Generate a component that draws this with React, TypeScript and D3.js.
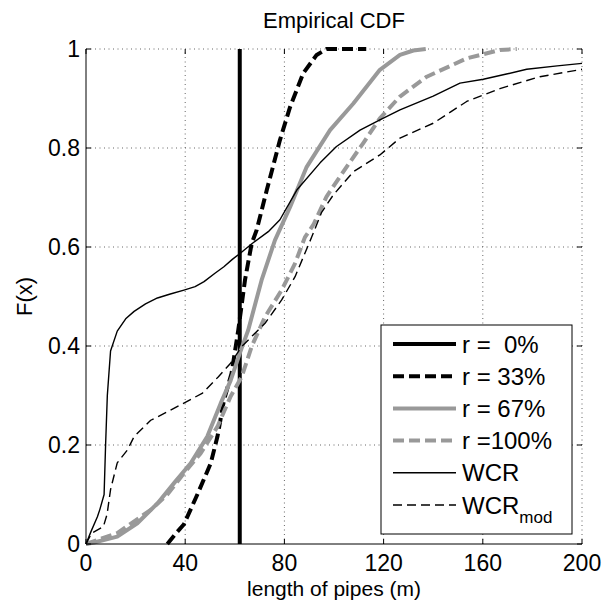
import React from "react";
import * as d3 from "d3";

// ---- data ----
const xTicks = [0, 40, 80, 120, 160, 200];
const yTicks = [0, 0.2, 0.4, 0.6, 0.8, 1];
const yTickLabels = ["0", "0.2", "0.4", "0.6", "0.8", "1"];

const r0X = [62, 62];
const r0Y = [0, 1];

const r33X = [32.8, 36, 39.5, 44.9, 50.3, 53, 55.6, 58.7, 61.4, 64.1, 66.8, 68.8, 72.9, 78.2, 82.3, 87.6, 93, 97, 113];
const r33Y = [0, 0.02, 0.04, 0.1, 0.163, 0.217, 0.29, 0.345, 0.432, 0.533, 0.607, 0.634, 0.715, 0.816, 0.883, 0.951, 0.988, 1.0, 1.0];

const r67X = [0, 3.2, 12.6, 20.7, 28.8, 35.5, 42.2, 48.9, 54.3, 58.3, 62, 65.4, 70.8, 76.2, 82.3, 89, 98.4, 107.8, 118.5, 126.6, 132, 137];
const r67Y = [0, 0.003, 0.015, 0.042, 0.082, 0.123, 0.163, 0.217, 0.284, 0.33, 0.385, 0.432, 0.533, 0.614, 0.681, 0.762, 0.836, 0.89, 0.958, 0.988, 0.997, 1];

const r100X = [0, 12.6, 26.1, 32.8, 39.5, 46.2, 53, 58.3, 62.8, 66.8, 72.2, 78.9, 84.3, 88.3, 91.7, 97, 105.1, 111.8, 118.5, 126.6, 137.4, 153.5, 166.9, 173.7];
const r100Y = [0, 0.022, 0.069, 0.1, 0.143, 0.183, 0.237, 0.298, 0.338, 0.399, 0.459, 0.513, 0.567, 0.62, 0.645, 0.702, 0.762, 0.81, 0.86, 0.904, 0.944, 0.981, 0.998, 1.0];

const wcrX = [0, 2, 4.6, 5.6, 7.3, 7.9, 8.6, 9.9, 12.6, 16, 19.4, 24, 28.8, 34, 39.5, 44, 47.6, 52, 55.6, 59, 62.1, 67, 73.5, 78.2, 85, 94.4, 101, 110.5, 118.5, 126.6, 140, 150.8, 160.2, 170, 177.7, 190, 200];
const wcrY = [0, 0.025, 0.055, 0.07, 0.1, 0.2, 0.3, 0.39, 0.43, 0.455, 0.47, 0.485, 0.497, 0.505, 0.513, 0.52, 0.53, 0.547, 0.56, 0.575, 0.587, 0.607, 0.631, 0.655, 0.715, 0.77, 0.803, 0.836, 0.857, 0.877, 0.905, 0.931, 0.939, 0.95, 0.959, 0.966, 0.971];

const wcrModX = [0, 2.3, 7, 8.5, 9.9, 12.6, 16.7, 19.4, 26.1, 32.8, 40.8, 47, 53.4, 58.3, 62.8, 67, 72.2, 78.9, 84.3, 91, 95, 99.7, 107.8, 118.5, 126.6, 140, 153.5, 166.9, 183, 200];
const wcrModY = [0, 0.022, 0.035, 0.06, 0.11, 0.164, 0.19, 0.217, 0.25, 0.267, 0.288, 0.305, 0.338, 0.365, 0.399, 0.42, 0.446, 0.493, 0.54, 0.62, 0.67, 0.705, 0.752, 0.786, 0.82, 0.85, 0.894, 0.92, 0.944, 0.959];

const legendLabels = ["r =  0%", "r = 33%", "r = 67%", "r =100%", "WCR", "WCR"];

const GRAY = "#999999";
const series = [
  { xs: r0X, ys: r0Y, color: "#000", width: 4, dash: "none" },
  { xs: r33X, ys: r33Y, color: "#000", width: 4, dash: "11,5" },
  { xs: r67X, ys: r67Y, color: GRAY, width: 4, dash: "none" },
  { xs: r100X, ys: r100Y, color: GRAY, width: 4, dash: "11,5" },
  { xs: wcrX, ys: wcrY, color: "#000", width: 1.4, dash: "none" },
  { xs: wcrModX, ys: wcrModY, color: "#000", width: 1.4, dash: "9,5" },
];

const FONT = "'Liberation Sans', Arial, Helvetica, sans-serif";

export default function App() {
  const W = 603, H = 604;
  const L = 86, R = 582, T = 49, B = 544;
  const x = d3.scaleLinear().domain([0, 200]).range([L, R]);
  const y = d3.scaleLinear().domain([0, 1]).range([B, T]);
  const line = d3.line<[number, number]>().x((d) => x(d[0])).y((d) => y(d[1]));

  const legX0 = 381, legY0 = 325, legW = 191, legH = 209;
  const rowY = (i: number) => 344 + i * 32.2;

  return (
    <svg width={W} height={H} style={{ position: "absolute", left: 0, top: 0, background: "#fff" }} fontFamily={FONT}>
      <rect x={0} y={0} width={W} height={H} fill="#fff" />
      {/* grid */}
      {xTicks.filter((t) => t !== 0).map((t) => (
        <line key={"gx" + t} x1={x(t)} x2={x(t)} y1={y(0)} y2={y(1)} stroke="#666" strokeWidth={1} strokeDasharray="1,3.5" />
      ))}
      {yTicks.filter((t) => t !== 0).map((t) => (
        <line key={"gy" + t} x1={x(0)} x2={x(200)} y1={y(t)} y2={y(t)} stroke="#666" strokeWidth={1} strokeDasharray="1,3.5" />
      ))}
      {/* series */}
      {series.map((s, i) => (
        <path
          key={"s" + i}
          d={line(s.xs.map((v, j) => [v, s.ys[j]] as [number, number])) || ""}
          fill="none"
          stroke={s.color}
          strokeWidth={s.width}
          strokeDasharray={s.dash}
          strokeLinejoin="round"
        />
      ))}
      {/* axes */}
      <line x1={L} x2={L} y1={T} y2={B} stroke="#000" strokeWidth={1} />
      <line x1={L} x2={R} y1={B} y2={B} stroke="#000" strokeWidth={1} />
      {xTicks.map((t) => (
        <g key={"xt" + t}>
          <line x1={x(t)} x2={x(t)} y1={B} y2={B - 5} stroke="#000" />
          <line x1={x(t)} x2={x(t)} y1={T} y2={T + 5} stroke="#000" />
          <text x={x(t)} y={571} textAnchor="middle" fontSize={23}>{t}</text>
        </g>
      ))}
      {yTicks.map((t, i) => (
        <g key={"yt" + t}>
          <line x1={L} x2={L + 5} y1={y(t)} y2={y(t)} stroke="#000" />
          <line x1={R} x2={R - 5} y1={y(t)} y2={y(t)} stroke="#000" />
          <text x={80} y={y(t)} dy="0.36em" textAnchor="end" fontSize={23}>{yTickLabels[i]}</text>
        </g>
      ))}
      {/* titles */}
      <text x={(L + R) / 2} y={28} textAnchor="middle" fontSize={22}>Empirical CDF</text>
      <text x={(L + R) / 2} y={596} textAnchor="middle" fontSize={21}>length of pipes (m)</text>
      <text transform={`translate(32,${(T + B) / 2}) rotate(-90)`} textAnchor="middle" fontSize={22}>F(x)</text>
      {/* legend */}
      <rect x={legX0} y={legY0} width={legW} height={legH} fill="#fff" stroke="#000" strokeWidth={1} />
      {series.map((s, i) => (
        <g key={"lg" + i}>
          <line x1={393} x2={456} y1={rowY(i)} y2={rowY(i)} stroke={s.color} strokeWidth={s.width} strokeDasharray={s.dash} />
          <text x={462} y={rowY(i)} dy="0.36em" fontSize={24} style={{ whiteSpace: "pre" }}>
            {legendLabels[i]}
            {i === 5 ? <tspan fontSize={17} dy={9}>mod</tspan> : null}
          </text>
        </g>
      ))}
    </svg>
  );
}
